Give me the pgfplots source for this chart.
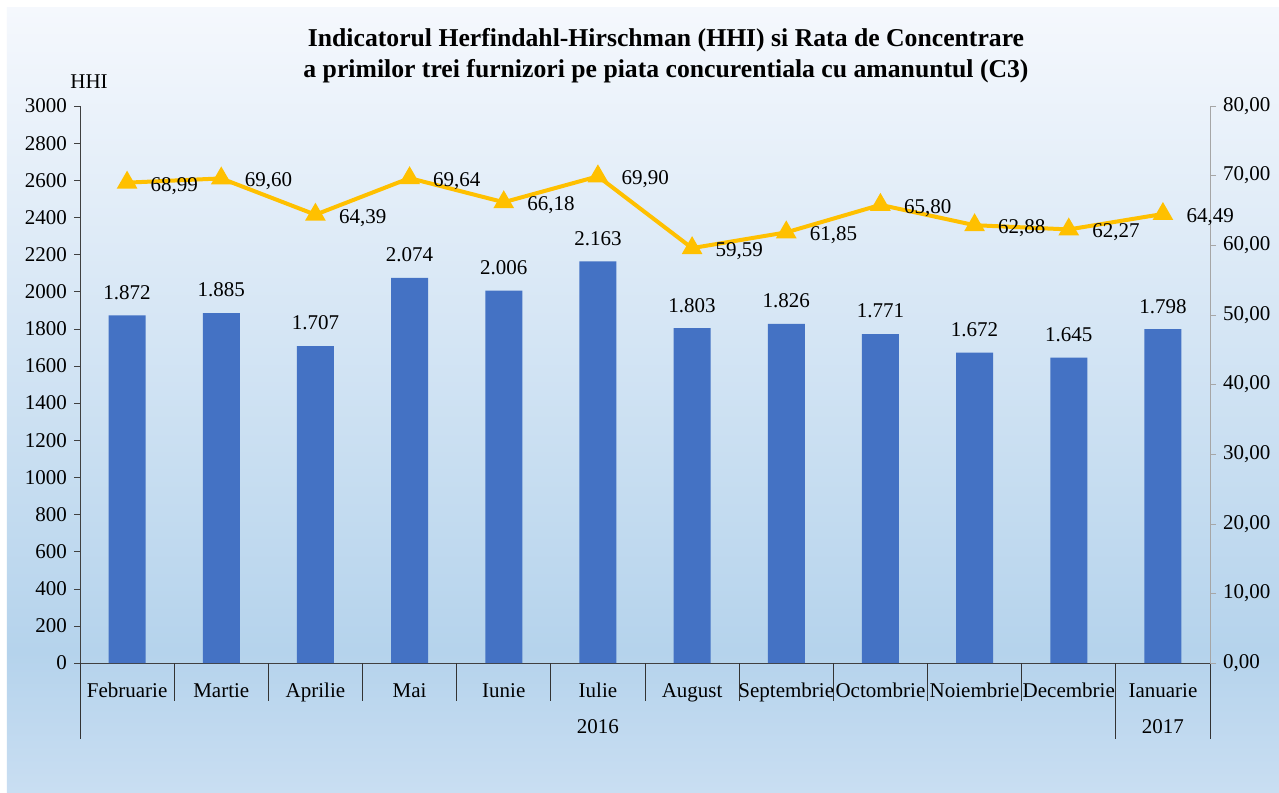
\documentclass[border=0pt]{standalone}
\usepackage{fontspec}
\setmainfont{Liberation Serif}
\usepackage{pgfplots}
\pgfplotsset{compat=1.18}

\definecolor{barblue}{HTML}{4472C4}
\definecolor{linegold}{HTML}{FFC000}
\definecolor{bgtop}{HTML}{F5F8FD}
\definecolor{bgmid}{HTML}{B5D3EC}
\definecolor{bgbot}{HTML}{C9DEF2}
\pgfdeclareverticalshading{bgshade}{100bp}{color(0bp)=(bgbot); color(25bp)=(bgbot); color(34bp)=(bgmid); color(75bp)=(bgtop); color(100bp)=(bgtop)}

\begin{document}
\begin{tikzpicture}[font=\fontsize{10.5bp}{12.6bp}\selectfont]
  % background
  \fill[white] (-40bp,-65bp) rectangle (599.5bp,331.5bp);
  \shade[shading=bgshade] (-36.5bp,-65bp) rectangle (599.5bp,327.5bp);

  % HHI bars, left axis
  \begin{axis}[
      at={(0,0)}, anchor=south west,
      scale only axis, width=565bp, height=278.5bp,
      xmin=-0.5, xmax=11.5, ymin=0, ymax=3000,
      ytick={0,200,...,3000},
      axis y line*=left, axis x line*=bottom,
      axis line style={-, black!75},
      tick align=outside, major tick length=3bp,
      ytick style={black!75},
      xtick={0,...,11},
      xticklabels={Februarie, Martie, Aprilie, Mai, Iunie, Iulie, August, Septembrie, Octombrie, Noiembrie, Decembrie, Ianuarie},
      x tick style={draw=none},
      xticklabel style={anchor=base, yshift=-14bp, inner sep=0pt},
      yticklabel style={/pgf/number format/1000 sep={}},
      /pgf/number format/assume math mode=true,
      /pgf/number format/1000 sep={.},
      ybar, bar width=18.5bp,
      nodes near coords,
      every node near coord/.append style={anchor=center, yshift=11.5bp, text=black},
      clip=false,
    ]
    \addplot[fill=barblue, draw=none] coordinates {
      (0,1872) (1,1885) (2,1707) (3,2074) (4,2006) (5,2163)
      (6,1803) (7,1826) (8,1771) (9,1672) (10,1645) (11,1798)};

    % category separators
    \pgfplotsinvokeforeach{0.5,1.5,...,9.5}{
      \draw[black!80] (axis cs:#1,0) -- ++(0pt,-19bp);
    }
    \pgfplotsinvokeforeach{-0.5,10.5,11.5}{
      \draw[black!80] (axis cs:#1,0) -- ++(0pt,-38bp);
    }
    \node[anchor=base] at ([yshift=-35bp]axis cs:5,0) {2016};
    \node[anchor=base] at ([yshift=-35bp]axis cs:11,0) {2017};
  \end{axis}

  % C3 line, right axis
  \begin{axis}[
      at={(0,0)}, anchor=south west,
      scale only axis, width=565bp, height=278.5bp,
      xmin=-0.5, xmax=11.5, ymin=0, ymax=80,
      ytick={0,10,...,80},
      axis y line*=right, axis x line=none,
      axis line style={-, black!35},
      tick align=outside, major tick length=3bp,
      ytick style={black!35},
      /pgf/number format/.cd, assume math mode=true, fixed, fixed zerofill, precision=2, use comma, 1000 sep={},
      /pgfplots/.cd,
      clip=false,
    ]
    \addplot[linegold, line width=2bp, mark=triangle*, mark size=4bp,
      mark options={solid, fill=linegold},
      nodes near coords,
      every node near coord/.append style={anchor=west, xshift=7.5bp, yshift=-1.5bp, text=black}]
      coordinates {
      (0,68.99) (1,69.60) (2,64.39) (3,69.64) (4,66.18) (5,69.90)
      (6,59.59) (7,61.85) (8,65.80) (9,62.88) (10,62.27) (11,64.49)};
  \end{axis}

  \node[align=center, font=\bfseries\fontsize{12.85bp}{15.5bp}\selectfont] at (293bp,303.75bp)
    {Indicatorul Herfindahl-Hirschman (HHI) si Rata de Concentrare\\a primilor trei furnizori pe piata concurentiala cu amanuntul (C3)};
  \node at (4.5bp,290.5bp) {HHI};

  \pgfresetboundingbox
  \useasboundingbox (-40bp,-65bp) rectangle (599.5bp,331.5bp);
\end{tikzpicture}
\end{document}
